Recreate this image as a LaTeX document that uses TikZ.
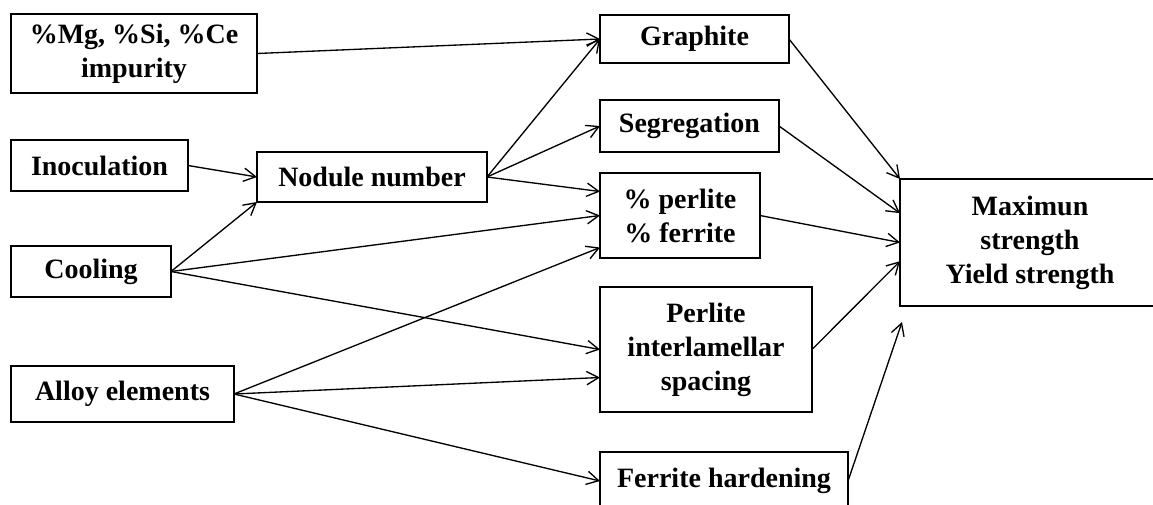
\documentclass[tikz,border=0pt]{standalone}
\usepackage{fontspec}
\setmainfont{Liberation Serif}
\usetikzlibrary{arrows.meta}
\newcommand\bx[6]{\node[box, minimum width={(#4-#2)*0.75pt}, minimum height={(#5-#3)*0.75pt}] (#1) at ({(#2+#4)/2},{(#3+#5)/2}) {#6};}
\begin{document}
\begin{tikzpicture}[x=0.75pt,y=-0.75pt,
  box/.style={draw, line width=1.3pt, inner sep=0pt, outer sep=0pt, align=center,
    font=\fontsize{21}{25.5}\selectfont\bfseries},
  arr/.style={line width=1pt, -{Straight Barb[length=9pt,width=10pt,line width=1pt]}}]
\useasboundingbox (0,0) rectangle (1153,504);
\clip (0,0) rectangle (1153,504);
\bx{mg}{11}{14}{257}{93}{\%Mg, \%Si, \%Ce\\impurity}
\bx{inoc}{11}{140}{188}{191}{Inoculation}
\bx{cool}{11}{246}{171}{297}{Cooling}
\bx{alloy}{11}{366}{234}{422}{Alloy elements}
\bx{nod}{257}{152}{487}{202}{Nodule number}
\bx{graph}{600}{15}{789}{63}{Graphite}
\bx{seg}{600}{100}{779}{152}{Segregation}
\bx{perl}{600}{173}{760}{258}{\% perlite\\\% ferrite}
\bx{inter}{600}{287}{812}{412}{Perlite\\interlamellar\\spacing}
\bx{ferr}{600}{452}{848}{510}{Ferrite hardening}
\bx{max}{900}{179}{1160}{306}{Maximun\\strength\\Yield strength}
\draw[arr] (mg.east) -- (graph.west);
\draw[arr] (inoc.east) -- (nod.west);
\draw[arr] (cool.east) -- (nod.south west);
\draw[arr] (cool.east) -- (perl.west);
\draw[arr] (cool.east) -- (inter.west);
\draw[arr] (nod.east) -- (graph.west);
\draw[arr] (nod.east) -- (seg.west);
\draw[arr] (nod.east) -- ([yshift=18pt]perl.west);
\draw[arr] (alloy.east) -- ([yshift=-24pt]perl.west);
\draw[arr] (alloy.east) -- ([yshift=-21pt]inter.west);
\draw[arr] (alloy.east) -- (ferr.west);
\draw[arr] (graph.east) -- (max.north west);
\draw[arr] (seg.east) -- ([yshift=22pt]max.west);
\draw[arr] (perl.east) -- (max.west);
\draw[arr] (inter.east) -- ([yshift=-14pt]max.west);
\draw[arr] (ferr.east) -- ([shift={(2,16)}]max.south west);
\end{tikzpicture}
\end{document}
